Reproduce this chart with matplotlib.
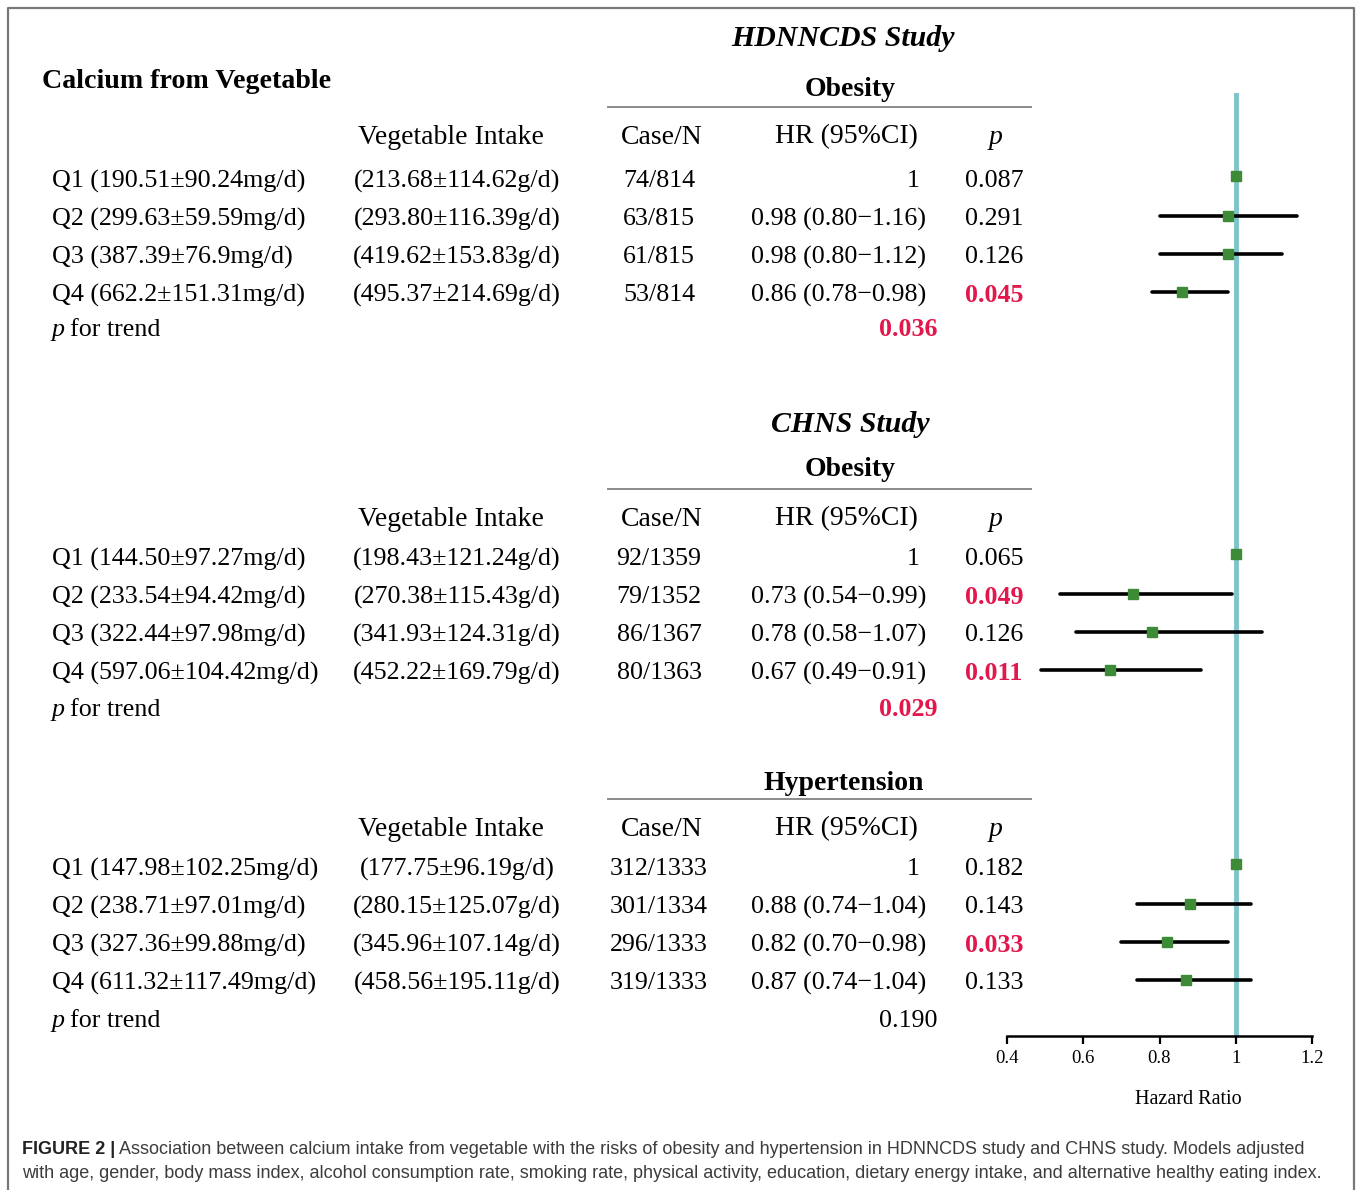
import matplotlib.pyplot as plt

plt.rcParams['font.family'] = ['Liberation Serif', 'DejaVu Serif']

W, H = 1357, 1190

# ---- data ----
hdn_quart = ["Q1 (190.51±90.24mg/d)", "Q2 (299.63±59.59mg/d)",
             "Q3 (387.39±76.9mg/d)", "Q4 (662.2±151.31mg/d)"]
hdn_intake = ["(213.68±114.62g/d)", "(293.80±116.39g/d)",
              "(419.62±153.83g/d)", "(495.37±214.69g/d)"]
hdn_case = ["74/814", "63/815", "61/815", "53/814"]
hdn_hr = [1.00, 0.98, 0.98, 0.86]
hdn_lo = [None, 0.80, 0.80, 0.78]
hdn_hi = [None, 1.16, 1.12, 0.98]
hdn_p = [0.087, 0.291, 0.126, 0.045]
hdn_trend = 0.036

chns_quart = ["Q1 (144.50±97.27mg/d)", "Q2 (233.54±94.42mg/d)",
              "Q3 (322.44±97.98mg/d)", "Q4 (597.06±104.42mg/d)"]
chns_intake = ["(198.43±121.24g/d)", "(270.38±115.43g/d)",
               "(341.93±124.31g/d)", "(452.22±169.79g/d)"]
chns_case = ["92/1359", "79/1352", "86/1367", "80/1363"]
chns_hr = [1.00, 0.73, 0.78, 0.67]
chns_lo = [None, 0.54, 0.58, 0.49]
chns_hi = [None, 0.99, 1.07, 0.91]
chns_p = [0.065, 0.049, 0.126, 0.011]
chns_trend = 0.029

hyp_quart = ["Q1 (147.98±102.25mg/d)", "Q2 (238.71±97.01mg/d)",
             "Q3 (327.36±99.88mg/d)", "Q4 (611.32±117.49mg/d)"]
hyp_intake = ["(177.75±96.19g/d)", "(280.15±125.07g/d)",
              "(345.96±107.14g/d)", "(458.56±195.11g/d)"]
hyp_case = ["312/1333", "301/1334", "296/1333", "319/1333"]
hyp_hr = [1.00, 0.88, 0.82, 0.87]
hyp_lo = [None, 0.74, 0.70, 0.74]
hyp_hi = [None, 1.04, 0.98, 1.04]
hyp_p = [0.182, 0.143, 0.033, 0.133]
hyp_trend = 0.190

hr_ticks = [0.4, 0.6, 0.8, 1.0, 1.2]
hr_tick_labels = ["0.4", "0.6", "0.8", "1", "1.2"]

caption_bold = "FIGURE 2 |"
caption_1 = (" Association between calcium intake from vegetable with the risks of obesity "
             "and hypertension in HDNNCDS study and CHNS study. Models adjusted")
caption_2 = ("with age, gender, body mass index, alcohol consumption rate, smoking rate, "
             "physical activity, education, dietary energy intake, and alternative healthy eating index.")

# ---- layout (pixels) ----
RED = '#e2174b'
GREEN = '#3d8b37'
TEAL = '#7ec4cc'
X_LAB, X_INT, X_CASE, X_HR, X_P, X_TREND = 52, 457, 659, 926, 994, 937
ROW_FS, HEAD_FS, SEC_FS = 18.7, 20, 20
DY = 3  # text baseline nudge

fig = plt.figure(figsize=(W / 100, H / 100), dpi=100)
ax = fig.add_axes([0, 0, 1, 1])
ax.set_xlim(0, W)
ax.set_ylim(H, 0)
ax.axis('off')

# frame
ax.plot([8, 8, 1354, 1354], [H + 5, 8, 8, H + 5], color='#777777', lw=1.6)

ax.text(42, 78 + DY, "Calcium from Vegetable", fontsize=20.2, fontweight='bold',
        va='center', ha='left')

# forest axes: x in HR, y in pixels
fx0, fx1, fy_top, fy_bot = 1007, 1312, 93, 1036
fax = fig.add_axes([fx0 / W, 1 - fy_bot / H, (fx1 - fx0) / W, (fy_bot - fy_top) / H])
fax.set_xlim(0.4, 1.2)
fax.set_ylim(fy_bot, fy_top)
fax.patch.set_alpha(0)
for s in ['top', 'left', 'right']:
    fax.spines[s].set_visible(False)
fax.spines['bottom'].set_linewidth(1.8)
fax.set_yticks([])
fax.set_xticks(hr_ticks)
fax.set_xticklabels(hr_tick_labels)
fax.tick_params(axis='x', direction='out', length=6, width=1.6, labelsize=13.5, pad=4)
fax.axvline(1.0, color=TEAL, lw=3.5, zorder=1)
ax.text(1188, 1097 + DY, "Hazard Ratio", fontsize=14.5, ha='center', va='center')


def section(title_y, title, title_x, head_y, rows_y, trend_y,
            quart, intake, case, hr, lo, hi, pv, trend, study=None, study_y=None,
            study_x=None):
    if study:
        ax.text(study_x, study_y + DY, study, fontsize=21.5, fontweight='bold',
                style='italic', ha='center', va='center')
    ax.text(title_x, title_y + DY, title, fontsize=SEC_FS, fontweight='bold',
            ha='center', va='center')
    ax.plot([608, 1031], [head_y - 27, head_y - 27], color='#8a8a8a', lw=1.4)
    hy = head_y + DY
    ax.text(451, hy, "Vegetable Intake", fontsize=HEAD_FS, ha='center', va='center')
    ax.text(662, hy, "Case/N", fontsize=HEAD_FS, ha='center', va='center')
    ax.text(846, hy, "HR (95%CI)", fontsize=HEAD_FS, ha='center', va='center')
    ax.text(996, hy, "p", fontsize=HEAD_FS, style='italic', ha='center', va='center')
    for i, y in enumerate(rows_y):
        ty = y + DY
        ax.text(X_LAB, ty, quart[i], fontsize=ROW_FS, va='center', ha='left')
        ax.text(X_INT, ty, intake[i], fontsize=ROW_FS, va='center', ha='center')
        ax.text(X_CASE, ty, case[i], fontsize=ROW_FS, va='center', ha='center')
        if lo[i] is None:
            ax.text(X_HR - 6, ty, "1", fontsize=ROW_FS, va='center', ha='right')
        else:
            s = f"{hr[i]:.2f} ({lo[i]:.2f}\u2212{hi[i]:.2f})"
            ax.text(X_HR, ty, s, fontsize=ROW_FS, va='center', ha='right')
        sig = pv[i] < 0.05
        ax.text(X_P, ty, f"{pv[i]:.3f}", fontsize=ROW_FS, va='center', ha='center',
                color=RED if sig else 'black', fontweight='bold' if sig else 'normal')
        # forest marks
        my = y - 2 if i == 0 else y
        if lo[i] is not None:
            fax.plot([lo[i], hi[i]], [my, my], color='black', lw=2.6,
                     solid_capstyle='round', clip_on=False, zorder=2)
        fax.plot(hr[i], my, marker='s', ms=7, color=GREEN, mec=GREEN,
                 clip_on=False, zorder=3)
    ty = trend_y + DY
    ax.text(X_LAB, ty, "p", fontsize=ROW_FS, style='italic', va='center', ha='left')
    ax.text(X_LAB + 18, ty, "for trend", fontsize=ROW_FS, va='center', ha='left')
    sig = trend < 0.05
    ax.text(X_TREND, ty, f"{trend:.3f}", fontsize=ROW_FS, va='center', ha='right',
            color=RED if sig else 'black', fontweight='bold' if sig else 'normal')


section(86, "Obesity", 850, 134, [178, 216, 254, 292], 327,
        hdn_quart, hdn_intake, hdn_case, hdn_hr, hdn_lo, hdn_hi, hdn_p, hdn_trend,
        study="HDNNCDS Study", study_y=35, study_x=843)
section(467, "Obesity", 850, 516, [556, 594, 632, 670], 707,
        chns_quart, chns_intake, chns_case, chns_hr, chns_lo, chns_hi, chns_p, chns_trend,
        study="CHNS Study", study_y=422, study_x=850)
section(780, "Hypertension", 844, 826, [866, 904, 942, 980], 1018,
        hyp_quart, hyp_intake, hyp_case, hyp_hr, hyp_lo, hyp_hi, hyp_p, hyp_trend)

# caption
cap_font = ['Liberation Sans', 'DejaVu Sans']
CAP_FS = 13.0
tb = ax.text(22, 1146 + DY, caption_bold, fontsize=CAP_FS, fontweight='bold', family=cap_font,
             color='#222222', va='center', ha='left')
fig.canvas.draw()
bb = tb.get_window_extent()
ax.text(bb.x1, 1146 + DY, caption_1, fontsize=CAP_FS, family=cap_font, color='#3c3c3c',
        va='center', ha='left')
ax.text(22, 1171 + DY, caption_2, fontsize=CAP_FS, family=cap_font, color='#3c3c3c',
        va='center', ha='left')

fig.savefig("out.png", dpi=100)
